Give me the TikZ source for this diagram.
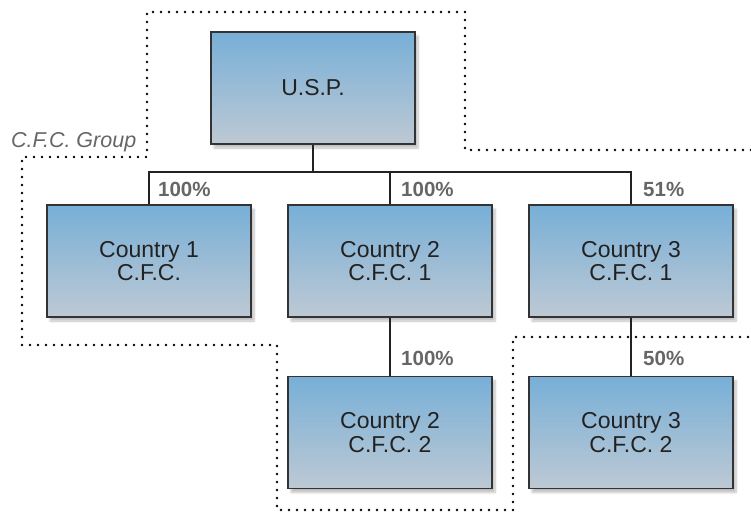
\documentclass[tikz,border=0pt]{standalone}
\usepackage{fontspec}
\setmainfont{Liberation Sans}
\usetikzlibrary{shadows.blur}
\definecolor{boxtop}{HTML}{78AFD7}
\definecolor{boxbot}{HTML}{BDC9D4}
\definecolor{boxline}{HTML}{333333}
\definecolor{pct}{HTML}{666666}
\definecolor{txt}{HTML}{222222}
\tikzset{
  entity/.style={draw=boxline, line width=1.3pt, top color=boxtop, bottom color=boxbot,
    minimum width=204pt, minimum height=112pt, inner sep=0pt, align=center,
    text=txt, font=\fontsize{23}{23.5}\selectfont,
    blur shadow={shadow xshift=3pt, shadow yshift=-4pt, shadow blur steps=8, shadow opacity=25}},
  link/.style={draw=txt, line width=1.4pt},
  pctlabel/.style={anchor=base west, inner sep=0pt, text=pct, font=\fontsize{20.5}{22}\selectfont\bfseries},
  grouplabel/.style={anchor=base west, inner sep=0pt, text=pct, font=\fontsize{21.5}{22}\selectfont\itshape},
  boundary/.style={draw=black, line width=2.6pt, line cap=round, dash pattern=on 0pt off 8pt}
}
\begin{document}
\begin{tikzpicture}[x=1pt,y=-1pt]
\useasboundingbox (0,0) rectangle (751,514);
% group boundary
\coordinate (b0) at (751,150);
\coordinate (b1) at (465,150);
\coordinate (b2) at (465,12);
\coordinate (b3) at (147,12);
\coordinate (b4) at (147,157);
\coordinate (b5) at (22,157);
\coordinate (b6) at (22,345);
\coordinate (b7) at (277,345);
\coordinate (b8) at (277,510);
\coordinate (b9) at (513,510);
\coordinate (b10) at (513,337);
\coordinate (b11) at (751,337);
\draw[boundary] (b0) -- (b1) -- (b2) -- (b3) -- (b4) -- (b5) -- (b6) -- (b7) -- (b8) -- (b9) -- (b10) -- (b11);
\node[grouplabel] (grp) at (11,147) {C.F.C. Group};
% entities
\node[entity] (usp) at (313,88) {U.S.P.};
\node[entity] (c1) at (149,261) {Country 1\\C.F.C.};
\node[entity] (c21) at (390,261) {Country 2\\C.F.C. 1};
\node[entity] (c31) at (631,261) {Country 3\\C.F.C. 1};
\node[entity] (c22) at (390,432.5) {Country 2\\C.F.C. 2};
\node[entity] (c32) at (631,432.5) {Country 3\\C.F.C. 2};
% connectors
\coordinate (bus) at (313,172);
\draw[link] (usp.south) -- (bus);
\draw[link] (c1.north) |- (bus) -| (c31.north);
\draw[link] (c21.north) -- (c21.north |- bus);
\draw[link] (c21.south) -- (c22.north);
\draw[link] (c31.south) -- (c32.north);
% percentages
\node[pctlabel] (p1) at (158,196) {100\%};
\node[pctlabel] (p2) at (401,196) {100\%};
\node[pctlabel] (p3) at (643,196) {51\%};
\node[pctlabel] (p4) at (401,365) {100\%};
\node[pctlabel] (p5) at (643,365) {50\%};
\end{tikzpicture}
\end{document}
